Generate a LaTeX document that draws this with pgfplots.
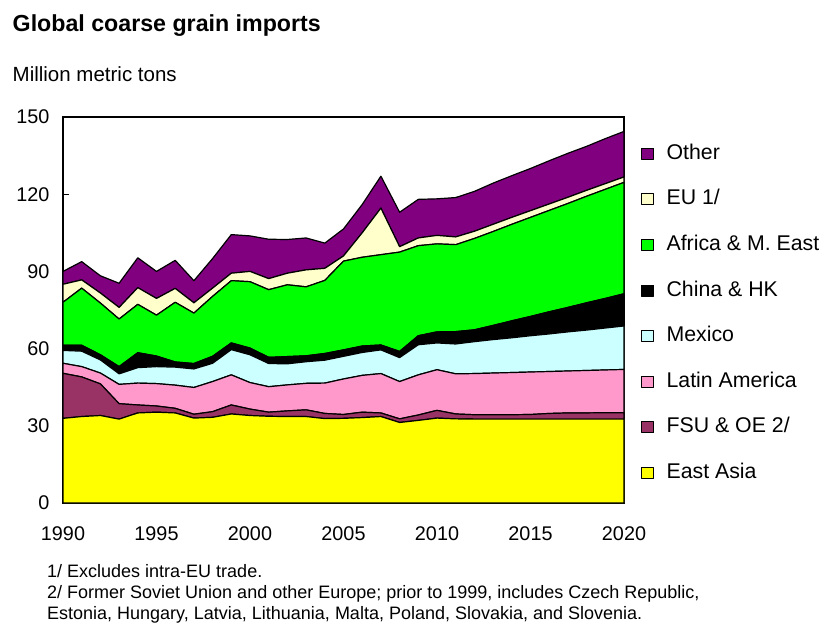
\documentclass[border=0pt]{standalone}
\usepackage{pgfplots}
\pgfplotsset{compat=1.18}
\usepackage{pgfplotstable}
\usepackage{fontspec}
\setmainfont{Liberation Sans}

\definecolor{cOT}{RGB}{128,0,128}
\definecolor{cEU}{RGB}{255,255,204}
\definecolor{cAF}{RGB}{0,255,0}
\definecolor{cCN}{RGB}{0,0,0}
\definecolor{cMX}{RGB}{204,255,255}
\definecolor{cLA}{RGB}{255,153,204}
\definecolor{cFSU}{RGB}{153,51,102}
\definecolor{cEA}{RGB}{255,255,0}

\pgfplotstableread{
year EA   FSU  LA   MX   CN   AF   EU   OT
1990 32.9 17.5 3.9  5.0  2.0  16.7 7.0  5.0
1991 33.6 15.4 4.0  6.0  2.3  22.2 3.2  7.1
1992 34.0 12.3 4.2  5.1  2.0  20.1 3.9  6.7
1993 32.6 6.0  7.5  4.1  2.8  18.5 4.5  9.4
1994 35.0 3.1  8.5  6.0  5.8  18.8 6.5  11.6
1995 35.3 2.4  8.7  6.6  4.1  15.9 6.5  10.5
1996 35.0 1.8  9.0  7.0  2.0  23.2 5.4  10.9
1997 33.0 1.5  10.4 7.2  2.1  19.6 4.0  8.6
1998 33.3 2.2  11.7 7.1  2.7  23.3 3.2  11.5
1999 34.6 3.5  11.7 9.8  2.6  24.2 2.9  15.0
2000 34.0 2.5  10.3 10.8 2.6  25.8 4.0  13.8
2001 33.7 1.6  9.9  9.0  2.4  26.3 4.3  15.3
2002 33.6 2.2  10.1 8.2  2.8  27.9 4.5  13.1
2003 33.6 2.6  10.3 8.4  2.3  26.8 6.6  12.4
2004 32.8 2.0  11.8 8.9  2.6  28.4 4.7  9.8
2005 32.9 1.5  13.8 8.8  2.5  34.5 2.0  10.5
2006 33.2 2.1  14.3 8.9  2.5  34.5 9.5  11.0
2007 33.6 1.4  15.3 9.2  1.9  35.1 18.1 12.4
2008 31.3 1.4  14.5 9.3  2.4  38.6 2.1  13.4
2009 32.1 2.1  15.6 11.7 3.5  35.0 3.0  15.0
2010 33.0 3.0  15.8 10.4 4.3  34.2 3.3  14.2
2011 32.7 1.9  15.6 11.6 4.8  33.8 3.0  15.3
2012 32.6 1.7  16.0 12.4 4.6  35.5 2.8  15.5
2013 32.6 1.7  16.2 13.0 5.5  36.5 2.8  16.0
2014 32.6 1.7  16.4 13.5 6.6  37.5 2.7  16.2
2015 32.6 1.8  16.5 14.1 7.5  38.5 2.6  16.4
2016 32.6 2.2  16.3 14.6 8.6  39.4 2.5  16.8
2017 32.6 2.4  16.3 15.2 9.5  40.4 2.4  17.1
2018 32.6 2.4  16.5 15.7 10.6 41.4 2.3  17.1
2019 32.6 2.5  16.6 16.3 11.5 42.4 2.2  17.5
2020 32.6 2.5  16.8 16.9 12.5 43.3 2.1  17.7
}\data

\begin{document}
\begin{tikzpicture}
\useasboundingbox (0pt,0pt) rectangle (826pt,-625pt);
\node[anchor=base west, inner sep=0pt, font=\fontsize{23.2}{27}\selectfont\bfseries] at (12.5pt,-31pt) {Global coarse grain imports};
\node[anchor=base west, inner sep=0pt, font=\fontsize{20.5}{24}\selectfont] at (12.5pt,-81pt) {Million metric tons};
\begin{axis}[
  at={(63pt,-503pt)}, anchor=south west,
  scale only axis, width=561pt, height=386pt,
  xmin=1990, xmax=2020, ymin=0, ymax=150,
  xtick={1990,1995,...,2020}, ytick={0,30,...,150},
  xtick pos=bottom, ytick pos=left, tick align=inside,
  major tick length=6pt,
  every tick/.style={black, line width=1pt},
  axis line style={line width=1.3pt},
  /pgf/number format/1000 sep={},
  /pgf/number format/assume math mode=true,
  ticklabel style={font=\fontsize{19.8}{23}\selectfont},
  yticklabel style={xshift=-10pt},
  xticklabel style={yshift=-20pt},
  stack plots=y,
  every axis plot/.append style={draw=black, line width=1.2pt, line join=round},
  legend image code/.code={\draw[#1, draw=black, line width=0.9pt] (0pt,-5.5pt) rectangle (12pt,5.5pt);},
  reverse legend,
  legend cell align=left,
  legend style={at={(1,1)}, anchor=north west, xshift=17pt, yshift=-24pt, draw=none, fill=none, inner sep=0pt,
    font=\fontsize{21.3}{25}\selectfont, row sep=20.6pt, column sep=10.5pt,
    nodes={inner sep=2pt, text height=16pt, text depth=5pt}},
]
\addplot[fill=cEA] table[x=year,y=EA]{\data} \closedcycle;
\addplot[fill=cFSU] table[x=year,y=FSU]{\data} \closedcycle;
\addplot[fill=cLA] table[x=year,y=LA]{\data} \closedcycle;
\addplot[fill=cMX] table[x=year,y=MX]{\data} \closedcycle;
\addplot[fill=cCN] table[x=year,y=CN]{\data} \closedcycle;
\addplot[fill=cAF] table[x=year,y=AF]{\data} \closedcycle;
\addplot[fill=cEU] table[x=year,y=EU]{\data} \closedcycle;
\addplot[fill=cOT] table[x=year,y=OT]{\data} \closedcycle;
\legend{East Asia, FSU \& OE 2/, Latin America, Mexico, China \& HK, Africa \& M. East, EU 1/, Other}
\end{axis}
\node[anchor=base west, inner sep=0pt, font=\fontsize{18}{21}\selectfont] at (47pt,-577pt) {1/ Excludes intra-EU trade.};
\node[anchor=base west, inner sep=0pt, font=\fontsize{18}{21}\selectfont] at (47pt,-598pt) {2/ Former Soviet Union and other Europe; prior to 1999, includes Czech Republic,};
\node[anchor=base west, inner sep=0pt, font=\fontsize{18}{21}\selectfont] at (47pt,-619pt) {Estonia, Hungary, Latvia, Lithuania, Malta, Poland, Slovakia, and Slovenia.};
\end{tikzpicture}
\end{document}
